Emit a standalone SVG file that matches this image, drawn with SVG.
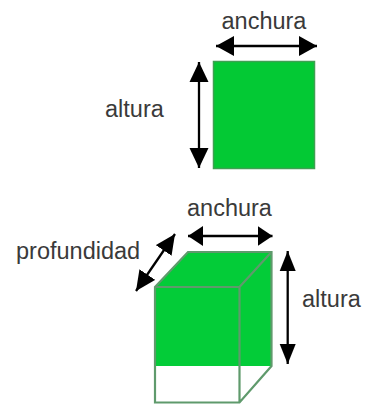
<svg xmlns="http://www.w3.org/2000/svg" width="366" height="404" viewBox="0 0 366 404">
<defs>
<marker id="h1" markerUnits="userSpaceOnUse" markerWidth="20" markerHeight="20" refX="18" refY="10" orient="auto-start-reverse" viewBox="0 0 20 20"><path d="M0 0L18 10L0 20Z" fill="#000"/></marker>
<marker id="h2" markerUnits="userSpaceOnUse" markerWidth="20" markerHeight="20" refX="15" refY="10" orient="auto-start-reverse" viewBox="0 0 20 20"><path d="M0 0L15 10L0 20Z" fill="#000"/></marker>
<marker id="v1" markerUnits="userSpaceOnUse" markerWidth="20" markerHeight="20" refX="20" refY="10" orient="auto-start-reverse" viewBox="0 0 20 20"><path d="M0 0.500L20 10L0 19.500Z" fill="#000"/></marker>
<marker id="v2" markerUnits="userSpaceOnUse" markerWidth="20" markerHeight="20" refX="20" refY="10" orient="auto-start-reverse" viewBox="0 0 20 20"><path d="M0 2L20 10L0 18Z" fill="#000"/></marker>
</defs>
<style>
text{font-family:"Liberation Sans",Arial,sans-serif;font-size:23.500px;fill:#3a3a3a}
.e{stroke:#5f9a6c;stroke-width:2.200;fill:none}
.a{stroke:#000;stroke-width:2.300;fill:none}
</style>
<rect width="366" height="404" fill="#fff"/>
<g id="square"><rect x="213.500" y="61.500" width="101" height="107" fill="#03c934" stroke="#3fa052" stroke-width="1.500"/></g>
<g id="box">
<path d="M155 287L188 252H271.500V366H155Z" fill="#03cc38"/>
<path class="e" d="M155 287L188 252H271.500V366L239.500 402.500H155ZM155 287H239.500V402.500M239.500 287L271.500 252"/>
</g>
<g id="connectors">
<path class="a" marker-start="url(#h1)" marker-end="url(#h1)" d="M216 46H317"/>
<path class="a" marker-start="url(#v1)" marker-end="url(#v1)" d="M199 62V168"/>
<path class="a" marker-start="url(#h2)" marker-end="url(#h2)" d="M188 236H272.500"/>
<path class="a" marker-start="url(#v2)" marker-end="url(#v2)" d="M287.700 251V364"/>
<path class="a" marker-start="url(#v1)" marker-end="url(#v1)" d="M175 234L136 291"/>
</g>
<g id="labels">
<text x="221.500" y="29">anchura</text>
<text x="105" y="117">altura</text>
<text x="187" y="216">anchura</text>
<text x="16" y="259">profundidad</text>
<text x="302" y="307">altura</text>
</g>
</svg>
